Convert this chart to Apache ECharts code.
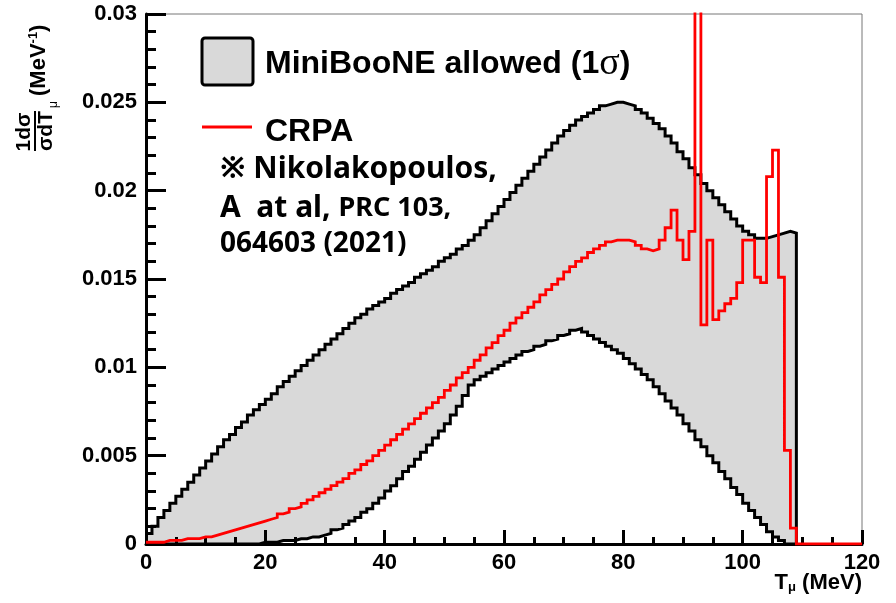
<!DOCTYPE html>
<html>
<head>
<meta charset="utf-8">
<script src="https://cdn.jsdelivr.net/npm/echarts@6/dist/echarts.min.js"></script>
<style>
html,body{margin:0;padding:0;background:#fff;}
#chart{width:896px;height:603px;}
</style>
</head>
<body>
<div id="chart"></div>
<script>
// ---- data (1 MeV bins, left edges) ----
const bandEdges = [0,1,2,3,4,5,6,7,8,9,10,11,12,13,14,15,16,17,18,19,20,21,22,23,24,25,26,27,28,29,
  30,31,32,33,34,35,36,37,38,39,40,41,42,43,44,45,46,47,48,49,50,51,52,53,54,55,56,57,58,59,
  60,61,62,63,64,65,66,67,68,69,70,71,72,73,74,75,76,77,78,79,80,81,82,83,84,85,86,87,88,89,
  90,91,92,93,94,95,96,97,98,99,100,101,102,103,104,105,106,107,108];
const bandEnd = 109;
const upperBand = [
 0.0006,0.0010,0.0015,0.0019,0.0023,0.0027,0.0031,0.0035,0.0039,0.0043,
 0.0047,0.0051,0.0055,0.0059,0.0062,0.0066,0.0069,0.0073,0.0076,0.0079,
 0.0082,0.0085,0.0089,0.0092,0.0095,0.0098,0.0101,0.0104,0.0107,0.0110,
 0.0113,0.0116,0.0119,0.0122,0.0125,0.0128,0.0130,0.0133,0.0135,0.0137,
 0.0139,0.0142,0.0144,0.0146,0.0148,0.0151,0.0153,0.0155,0.0157,0.0160,
 0.0162,0.0164,0.0167,0.0169,0.0172,0.0175,0.0179,0.0183,0.0187,0.0191,
 0.0195,0.0199,0.0203,0.0207,0.0211,0.0215,0.0219,0.0223,0.0227,0.0231,
 0.0234,0.0237,0.0240,0.0242,0.0244,0.0246,0.0248,0.0249,0.0250,0.0250,
 0.0249,0.0248,0.0246,0.0244,0.0241,0.0238,0.0235,0.0231,0.0227,0.0222,
 0.0218,0.0213,0.0209,0.0204,0.0200,0.0196,0.0192,0.0188,0.0184,0.0180,
 0.0177,0.0175,0.0173,0.0173,0.0174,0.0175,0.0176,0.0177,0.0176];
const lowerBand = [
 0,0,0,0,0,0,0,0,0,0,
 0,0,0,0,0,0,0,0,0,0.0001,
 0.0001,0.0001,0.0002,0.0002,0.0002,0.0003,0.0003,0.0004,0.0004,0.0005,
 0.0006,0.0008,0.0009,0.0011,0.0013,0.0015,0.0018,0.0020,0.0023,0.0026,
 0.0030,0.0033,0.0037,0.0041,0.0044,0.0048,0.0052,0.0056,0.0060,0.0064,
 0.0068,0.0073,0.0078,0.0084,0.0090,0.0093,0.0095,0.0097,0.0099,0.0101,
 0.0103,0.0105,0.0107,0.0109,0.0110,0.0112,0.0113,0.0115,0.0116,0.0118,
 0.0119,0.0121,0.0122,0.0120,0.0118,0.0116,0.0114,0.0112,0.0110,0.0108,
 0.0105,0.0102,0.0099,0.0096,0.0093,0.0089,0.0085,0.0081,0.0077,0.0073,
 0.0068,0.0064,0.0059,0.0055,0.0050,0.0046,0.0041,0.0037,0.0032,0.0028,
 0.0023,0.0019,0.0015,0.0011,0.0007,0.0004,0.0002,0.0000,0.0000];
const crpaEdges = [0,1,2,3,4,5,6,7,8,9,10,11,12,13,14,15,16,17,18,19,20,21,22,23,24,25,26,27,28,29,
  30,31,32,33,34,35,36,37,38,39,40,41,42,43,44,45,46,47,48,49,50,51,52,53,54,55,56,57,58,59,
  60,61,62,63,64,65,66,67,68,69,70,71,72,73,74,75,76,77,78,79,80,81,82,83,84,85,86,87,88,89,
  90,91,92,93,94,95,96,97,98,99,100,101,102,103,104,105,106,107,108,109,110,111,112,113,114,115,116,117,118,119];
const crpaEnd = 120;
const crpa = [
 0.0001,0.0001,0.0001,0.0002,0.0002,0.0002,0.0003,0.0003,0.0003,0.0004,
 0.0004,0.0005,0.0006,0.0007,0.0008,0.0009,0.0010,0.0011,0.0012,0.0013,
 0.0014,0.0015,0.0017,0.0018,0.0020,0.0021,0.0023,0.0025,0.0027,0.0029,
 0.0031,0.0033,0.0035,0.0037,0.0040,0.0042,0.0045,0.0047,0.0050,0.0053,
 0.0056,0.0059,0.0062,0.0065,0.0068,0.0071,0.0074,0.0077,0.0080,0.0083,
 0.0087,0.0090,0.0094,0.0097,0.0100,0.0104,0.0107,0.0111,0.0114,0.0118,
 0.0121,0.0125,0.0128,0.0131,0.0134,0.0137,0.0141,0.0144,0.0147,0.0150,
 0.0154,0.0157,0.0160,0.0162,0.0165,0.0167,0.0169,0.0171,0.0172,0.0172,
 0.0172,0.0171,0.0169,0.0167,0.0166,0.0167,0.0172,0.0179,0.0189,0.0172,
 0.0161,0.0177,0.0500,0.0124,0.0172,0.0127,0.0132,0.0136,0.0139,0.0148,
 0.0172,0.0172,0.0151,0.0148,0.0208,0.0223,0.0151,0.0053,0.0009,0,
 0,0,0,0,0,0,0,0,0,0];
const xTickLabels = ['0','20','40','60','80','100','120'];
const yTickLabels = ['0','0.005','0.01','0.015','0.02','0.025','0.03'];

// ---- build histogram step outlines from the bin arrays ----
function stepPoints(edges, vals, end) {
  const pts = [];
  for (let i = 0; i < vals.length; i++) {
    const right = (i + 1 < edges.length) ? edges[i + 1] : end;
    pts.push([edges[i], vals[i]]);
    pts.push([right, vals[i]]);
  }
  return pts;
}
const upperPts = stepPoints(bandEdges, upperBand, bandEnd).concat([[bandEnd, 0]]);
const lowerPts = stepPoints(bandEdges, lowerBand, bandEnd);
const crpaPts = stepPoints(crpaEdges, crpa, crpaEnd);
const bandPolygon = upperPts.concat(lowerPts.slice().reverse());

const chart = echarts.init(document.getElementById('chart'), null, {renderer: 'canvas'});
const SANS = 'Liberation Sans, Arial, sans-serif';
const labelFont = {fontFamily: SANS, fontWeight: 'bold', fontSize: 22, color: '#000'};

const option = {
  animation: false,
  backgroundColor: '#fff',
  grid: {left: 146, right: 34, top: 14, bottom: 59, show: true, borderColor: '#777', borderWidth: 1, backgroundColor: 'transparent'},
  xAxis: {
    type: 'value', min: 0, max: 120, interval: 20, z: 5,
    axisLine: {show: true, onZero: false, lineStyle: {color: '#000', width: 3}},
    axisTick: {show: true, inside: true, length: 14, lineStyle: {color: '#000', width: 3}},
    minorTick: {show: true, splitNumber: 4, length: 7, lineStyle: {color: '#000', width: 3}},
    splitLine: {show: false},
    axisLabel: Object.assign({margin: 8, formatter: (v) => xTickLabels[Math.round(v / 20)]}, labelFont)
  },
  yAxis: {
    type: 'value', min: 0, max: 0.03, interval: 0.005, z: 5,
    axisLine: {show: true, onZero: false, lineStyle: {color: '#000', width: 3}},
    axisTick: {show: true, inside: true, length: 20, lineStyle: {color: '#000', width: 3}},
    minorTick: {show: true, splitNumber: 5, length: 10, lineStyle: {color: '#000', width: 3}},
    splitLine: {show: false},
    axisLabel: Object.assign({margin: 9, formatter: (v) => yTickLabels[Math.round(v / 0.005)]}, labelFont)
  },
  series: [
    {
      name: 'MiniBooNE allowed (1σ)', type: 'custom', z: 1, clip: true,
      data: [[0]],
      renderItem: function (params, api) {
        return {
          type: 'polygon',
          shape: {points: bandPolygon.map((p) => api.coord(p))},
          style: {fill: '#d9d9d9', stroke: null}
        };
      }
    },
    {
      name: 'upper', type: 'line', data: upperPts, z: 3, clip: true,
      symbol: 'none', lineStyle: {color: '#000', width: 3, join: 'miter'}
    },
    {
      name: 'lower', type: 'line', data: lowerPts, z: 3, clip: true,
      symbol: 'none', lineStyle: {color: '#000', width: 3, join: 'miter'}
    },
    {
      name: 'CRPA', type: 'line', data: crpaPts, z: 6, clip: true,
      symbol: 'none', lineStyle: {color: '#ff0000', width: 2.8, join: 'miter'}
    }
  ],
  graphic: [
    // legend
    {type: 'rect', shape: {x: 202, y: 38, width: 51, height: 47, r: 3}, style: {fill: '#d9d9d9', stroke: '#000', lineWidth: 3}, z: 10},
    {type: 'text', x: 265, y: 64, z: 10, style: {
      text: '{b|MiniBooNE allowed (1}{s|σ}{b|)}', verticalAlign: 'middle', align: 'left',
      rich: {
        b: {fontFamily: SANS, fontWeight: 'bold', fontSize: 32, fill: '#000'},
        s: {fontFamily: 'Liberation Serif, serif', fontSize: 38, fill: '#000'}
      }}},
    {type: 'line', shape: {x1: 202, y1: 127, x2: 252, y2: 127}, style: {stroke: '#ff0000', lineWidth: 3}, z: 10},
    {type: 'text', x: 265, y: 132, z: 10, style: {text: 'CRPA', verticalAlign: 'middle', align: 'left',
      fontFamily: SANS, fontWeight: 'bold', fontSize: 32, fill: '#000'}},
    {type: 'text', x: 220, y: 169, z: 10, style: {text: '※ Nikolakopoulos,', verticalAlign: 'middle', align: 'left',
      fontFamily: "'Noto Sans', 'Noto Sans CJK KR', sans-serif", fontWeight: 'bold', fontSize: 30, fill: '#000'}},
    {type: 'text', x: 220, y: 208, z: 10, style: {text: '{a|A  at al, }{p|PRC 103,}', verticalAlign: 'middle', align: 'left',
      rich: {
        a: {fontFamily: "'Noto Sans', sans-serif", fontWeight: 'bold', fontSize: 30, fill: '#000'},
        p: {fontFamily: "'Noto Sans', sans-serif", fontWeight: 'bold', fontSize: 27, fill: '#000'}
      }}},
    {type: 'text', x: 220, y: 244, z: 10, style: {text: '064603 (2021)', verticalAlign: 'middle', align: 'left',
      fontFamily: "'Noto Sans', sans-serif", fontWeight: 'bold', fontSize: 28, fill: '#000'}},
    // x axis title
    {type: 'text', right: 34, top: 572, z: 10, style: {
      text: '{t|T}{s|μ}{t| (MeV)}',
      rich: {
        t: {fontFamily: SANS, fontWeight: 'bold', fontSize: 22, fill: '#000', verticalAlign: 'bottom'},
        s: {fontFamily: SANS, fontWeight: 'bold', fontSize: 13, fill: '#000', padding: [11, 0, 0, 0]}
      }}},
    // y axis title (rotated)
    {type: 'group', x: 35, y: 151, rotation: Math.PI / 2, z: 10, children: [
      {type: 'text', x: 19, y: -11, style: {text: '1dσ', align: 'center', verticalAlign: 'middle',
        fontFamily: SANS, fontWeight: 'bold', fontSize: 21, fill: '#000'}},
      {type: 'line', shape: {x1: 0, y1: 0, x2: 40, y2: 0}, style: {stroke: '#000', lineWidth: 2}},
      {type: 'text', x: 0, y: 11, style: {text: '{a|σdT}{s|μ}', align: 'left', verticalAlign: 'middle',
        rich: {
          a: {fontFamily: SANS, fontWeight: 'bold', fontSize: 21, fill: '#000'},
          s: {fontFamily: SANS, fontSize: 12, fill: '#000', padding: [16, 0, 0, 3]}
        }}},
      {type: 'text', x: 55, y: 4, style: {text: '{a|(MeV}{s|-1}{a|)}', align: 'left', verticalAlign: 'middle',
        rich: {
          a: {fontFamily: SANS, fontWeight: 'bold', fontSize: 22, fill: '#000'},
          s: {fontFamily: SANS, fontWeight: 'bold', fontSize: 13, fill: '#000', padding: [0, 0, 11, 0]}
        }}}
    ]}
  ]
};
chart.setOption(option);
</script>
</body>
</html>
